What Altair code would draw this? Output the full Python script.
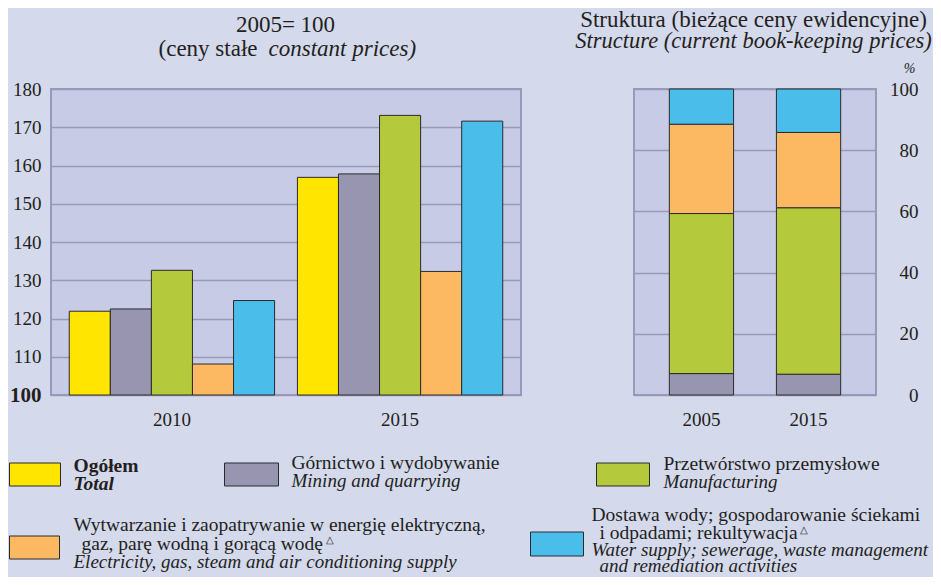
import altair as alt
import pandas as pd

# ---------------- data ----------------
idx_years = ["2010", "2015"]
sectors = ["Ogółem", "Górnictwo", "Przetwórstwo", "Energia", "Woda"]
idx_2010 = [121.9, 122.5, 132.6, 108.1, 124.7]
idx_2015 = [156.9, 157.8, 173.1, 132.3, 171.6]
idx_ticks = [100, 110, 120, 130, 140, 150, 160, 170, 180]

str_years = ["2005", "2015"]
str_sectors = ["Górnictwo", "Przetwórstwo", "Energia", "Woda"]
str_2005 = [7.0, 52.3, 29.2, 11.5]
str_2015 = [6.8, 54.4, 24.6, 14.2]
str_ticks = [0, 20, 40, 60, 80, 100]

colors = ["#FFE500", "#9895B0", "#B4C93B", "#FDB962", "#4BBDEA"]

title_left_1 = "2005= 100"
title_left_2a = "(ceny stałe"
title_left_2b = "constant prices)"
title_right_1 = "Struktura (bieżące ceny ewidencyjne)"
title_right_2 = "Structure (current book-keeping prices)"
unit_right = "%"

leg_ogolem = ["Ogółem", "Total"]
leg_gorn = ["Górnictwo i wydobywanie", "Mining and quarrying"]
leg_przetw = ["Przetwórstwo przemysłowe", "Manufacturing"]
leg_energ = ["Wytwarzanie i zaopatrywanie w energię elektryczną,",
             "gaz, parę wodną i gorącą wodę",
             "Electricity, gas, steam and air conditioning supply"]
leg_woda = ["Dostawa wody; gospodarowanie ściekami",
            "i odpadami; rekultywacja",
            "Water supply; sewerage, waste management",
            "and remediation activities"]
triangle = "△"

# ---------------- tables ----------------
df_idx = pd.DataFrame({
    "year": [y for y in idx_years for _ in sectors],
    "sector": sectors * 2,
    "value": idx_2010 + idx_2015,
})
df_str = pd.DataFrame({
    "year": [y for y in str_years for _ in str_sectors],
    "sector": str_sectors * 2,
    "share": str_2005 + str_2015,
    "ord": list(range(len(str_sectors))) * 2,
})

# ---------------- style ----------------
FONT = "Liberation Serif"
TXT = "#231F20"
EDGE = "#2B2B2B"
BG = "#D4D9EC"
PLOT_BG = "#C7CBE5"
GRID = "#9A99BA"
LEG = 19.5     # legend regular size
LEGI = 19      # legend italic size

LW, LH = 470, 306      # left plot
RW, RH = 242, 306      # right plot
LX0, LY0 = 49.5, 88.0  # page position of left plot origin
RX0, RY0 = 632.5, 88.0

color_scale = alt.Scale(domain=sectors, range=colors)
one = alt.Data(values=[{}])


def text(x, y, s, size=LEG, weight="normal", style="normal", align="left"):
    return alt.Chart(one).mark_text(
        align=align, baseline="alphabetic", font=FONT, fontSize=size,
        fontWeight=weight, fontStyle=style, color=TXT
    ).encode(x=alt.value(x), y=alt.value(y), text=alt.value(s))


def swatch(x1, y1, x2, y2, col):
    return alt.Chart(one).mark_rect(
        fill=col, stroke=EDGE, strokeWidth=1
    ).encode(x=alt.value(x1), x2=alt.value(x2), y=alt.value(y1), y2=alt.value(y2))


def L(px, py):
    return px - LX0, py - LY0


def R(px, py):
    return px - RX0, py - RY0


# ---------------- left chart ----------------
left_bars = alt.Chart(df_idx).mark_bar(stroke=EDGE, strokeWidth=1).encode(
    x=alt.X("year:N", sort=idx_years,
            scale=alt.Scale(paddingInner=0.1, paddingOuter=0.08),
            axis=alt.Axis(title=None, labelAngle=0, ticks=False, tickSize=0,
                          domain=False, grid=False, labelPadding=15,
                          labelFontSize=19)),
    xOffset=alt.XOffset("sector:N", sort=sectors,
                        scale=alt.Scale(paddingInner=0, paddingOuter=0)),
    y=alt.Y("value:Q",
            scale=alt.Scale(domain=[100, 180], nice=False, zero=False),
            axis=alt.Axis(values=idx_ticks, title=None, ticks=False, tickSize=0,
                          domain=False, grid=True, labelPadding=10,
                          labelFontSize={"condition": {"test": "datum.value == 100", "value": 21}, "value": 19},
                          labelFontWeight={"condition": {"test": "datum.value == 100", "value": "bold"}, "value": "normal"})),
    y2=alt.datum(100),
    color=alt.Color("sector:N", scale=color_scale, legend=None),
)

left_layers = [left_bars]
# titles
x, y = L(284, 31); left_layers.append(text(x, y, title_left_1, size=23, align="center"))
x, y = L(256, 55); left_layers.append(text(x, y, title_left_2a, size=23, align="right"))
x, y = L(267, 55); left_layers.append(text(x, y, title_left_2b, size=23, style="italic"))

# legend swatches
for (x1, y1, x2, y2, c) in [(8, 462, 59, 485, colors[0]), (223, 462, 277, 485, colors[1]),
                            (595, 462, 648, 485, colors[2]), (8, 535, 58, 558, colors[3]),
                            (529, 531, 582, 555, colors[4])]:
    a, b = L(x1, y1); c2, d = L(x2, y2)
    left_layers.append(swatch(a, b, c2, d, c))

# legend row 1
x, y = L(72, 471); left_layers.append(text(x, y, leg_ogolem[0], weight="bold"))
x, y = L(72, 489); left_layers.append(text(x, y, leg_ogolem[1], weight="bold", style="italic"))
x, y = L(290, 468); left_layers.append(text(x, y, leg_gorn[0]))
x, y = L(290, 486); left_layers.append(text(x, y, leg_gorn[1], size=LEGI, style="italic"))
x, y = L(662, 469); left_layers.append(text(x, y, leg_przetw[0]))
x, y = L(662, 487); left_layers.append(text(x, y, leg_przetw[1], size=LEGI, style="italic"))

# legend row 2
x, y = L(72, 530); left_layers.append(text(x, y, leg_energ[0]))
x, y = L(80, 549); left_layers.append(text(x, y, leg_energ[1]))
x, y = L(324, 542); left_layers.append(text(x, y, triangle, size=10))
x, y = L(72, 567); left_layers.append(text(x, y, leg_energ[2], size=LEGI, style="italic"))

x, y = L(590, 520); left_layers.append(text(x, y, leg_woda[0]))
x, y = L(598, 538); left_layers.append(text(x, y, leg_woda[1]))
x, y = L(798, 532); left_layers.append(text(x, y, triangle, size=10))
x, y = L(590, 555); left_layers.append(text(x, y, leg_woda[2], size=LEGI, style="italic"))
x, y = L(598, 571); left_layers.append(text(x, y, leg_woda[3], size=LEGI, style="italic"))

left = alt.layer(*left_layers).properties(width=LW, height=LH)

# ---------------- right chart ----------------
right_bars = alt.Chart(df_str).mark_bar(stroke=EDGE, strokeWidth=1).encode(
    x=alt.X("year:N", sort=str_years,
            scale=alt.Scale(paddingInner=0.4, paddingOuter=0.33),
            axis=alt.Axis(title=None, labelAngle=0, ticks=False, tickSize=0,
                          domain=False, grid=False, labelPadding=15,
                          labelFontSize=19)),
    y=alt.Y("share:Q", stack="zero",
            scale=alt.Scale(domain=[0, 100], nice=False),
            axis=alt.Axis(orient="right", values=str_ticks, title=None,
                          ticks=False, tickSize=0, domain=False, grid=True,
                          labelAlign="right", labelPadding=42, labelFontSize=19)),
    color=alt.Color("sector:N", scale=color_scale, legend=None),
    order=alt.Order("ord:Q", sort="ascending"),
)

right_layers = [right_bars]
x, y = R(752, 26); right_layers.append(text(x, y, title_right_1, size=23, align="center"))
x, y = R(752, 47); right_layers.append(text(x, y, title_right_2, size=22.5, style="italic", align="center"))
x, y = R(908, 72); right_layers.append(text(x, y, unit_right, size=14, style="italic", align="center"))

right = alt.layer(*right_layers).properties(width=RW, height=RH)

chart = alt.hconcat(left, right, spacing=RX0 - LX0 - LW, bounds="flush").properties(
    padding=0, background=BG
).configure_view(
    fill=PLOT_BG, stroke=GRID, strokeWidth=2
).configure_axis(
    labelFont=FONT, labelColor=TXT, gridColor=GRID, gridWidth=1.5, gridOpacity=1
).configure_text(font=FONT)

chart.save("out.html", embed_options={"renderer": "svg", "actions": False})
